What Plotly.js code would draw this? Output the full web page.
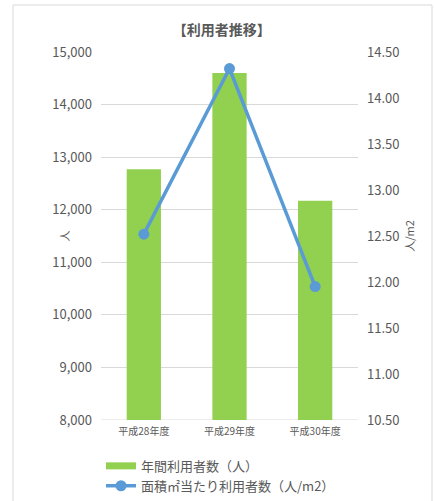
<!DOCTYPE html>
<html>
<head>
<meta charset="utf-8">
<script src="https://cdn.plot.ly/plotly-3.0.1.min.js"></script>
<style>
  html, body { margin: 0; padding: 0; background: #fff; }
  #chart { width: 435px; height: 501px; }
</style>
</head>
<body>
<div id="chart"></div>
<script>
const categories = ['平成28年度', '平成29年度', '平成30年度'];
const annualUsers = [12770, 14600, 12170];
const usersPerSqm = [12.52, 14.32, 11.95];
const seriesNames = ['年間利用者数（人）', '面積㎡当たり利用者数（人/m2）'];
const chartTitle = '【利用者推移】';
const leftAxisTitle = '人';
const rightAxisTitle = '人/m2';

const FONT = '"Noto Sans CJK JP", "Noto Sans", sans-serif';
const TXT = '#595959';
const GRID = '#d9d9d9';

const traces = [
  {
    type: 'bar', x: categories, y: annualUsers, name: seriesNames[0],
    marker: { color: '#92d050' }, showlegend: false, yaxis: 'y', hoverinfo: 'x+y'
  },
  {
    type: 'scatter', mode: 'lines', x: [null], y: [null], name: seriesNames[0],
    line: { color: '#92d050', width: 7 }, yaxis: 'y', showlegend: true
  },
  {
    type: 'scatter', mode: 'lines+markers', x: categories, y: usersPerSqm, name: seriesNames[1],
    line: { color: '#5b9bd5', width: 3.5 },
    marker: { color: '#5b9bd5', size: 11 },
    yaxis: 'y2'
  }
];

const layout = {
  width: 435, height: 501,
  paper_bgcolor: '#ffffff', plot_bgcolor: '#ffffff',
  font: { family: FONT, color: TXT, size: 12 },
  margin: { l: 101, r: 77, t: 52, b: 81 },
  bargap: 0.6,
  title: {
    text: chartTitle, x: 0.51, xanchor: 'center', y: 0.94, yanchor: 'middle',
    font: { family: FONT, size: 14, color: TXT, weight: 'bold' }
  },
  xaxis: {
    type: 'category', showgrid: false, zeroline: false,
    showline: false, ticks: '',
    tickfont: { size: 10, color: TXT, family: FONT },
    ticklabelstandoff: 4, automargin: false
  },
  yaxis: {
    range: [8000, 15000], dtick: 1000, tick0: 8000, tickformat: ',',
    showgrid: true, gridcolor: GRID, gridwidth: 1, zeroline: false,
    showline: false, ticks: '',
    tickfont: { size: 13, color: TXT, family: FONT },
    ticklabelstandoff: 8,
    title: { text: leftAxisTitle, font: { size: 11, color: TXT, family: FONT } },
    automargin: false
  },
  yaxis2: {
    overlaying: 'y', side: 'right',
    range: [10.5, 14.5], dtick: 0.5, tick0: 10.5, tickformat: '.2f',
    showgrid: false, zeroline: false, showline: false, ticks: '',
    tickfont: { size: 13, color: TXT, family: FONT },
    ticklabelstandoff: 8,
    title: { text: rightAxisTitle, font: { size: 11, color: TXT, family: FONT } },
    automargin: false
  },
  legend: {
    orientation: 'v', x: 0.0, xanchor: 'left',
    yref: 'container', y: 0.1, yanchor: 'top',
    font: { size: 13, color: TXT, family: FONT },
    traceorder: 'normal', bgcolor: 'rgba(0,0,0,0)', tracegroupgap: 0,
    itemwidth: 30
  },
  shapes: [
    {
      type: 'line', xref: 'paper', yref: 'y', x0: 0, x1: 1, y0: 8000, y1: 8000,
      line: { color: GRID, width: 1 }, layer: 'below'
    },
    {
      type: 'rect', xref: 'paper', yref: 'paper',
      x0: (13 - 101) / 257, x1: (432 - 101) / 257,
      y0: (420 - 520) / 368, y1: (420 - 5) / 368,
      line: { color: GRID, width: 1 }, fillcolor: 'rgba(0,0,0,0)', layer: 'below'
    }
  ]
};

Plotly.newPlot('chart', traces, layout, { displayModeBar: false, staticPlot: true });
</script>
</body>
</html>
